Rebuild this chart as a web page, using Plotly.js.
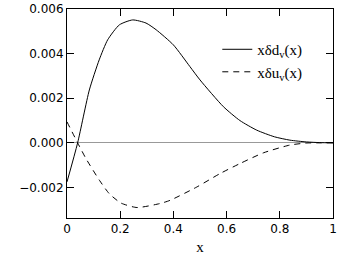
<!DOCTYPE html>
<html>
<head>
<meta charset="utf-8">
<script src="https://cdn.plot.ly/plotly-3.0.1.min.js"></script>
<style>
  html, body { margin: 0; padding: 0; background: #fff; }
  #chart { width: 346px; height: 262px; }
</style>
</head>
<body>
<div id="chart"></div>
<script>
// values
const xD = [0, 0.04, 0.084, 0.121, 0.153, 0.197, 0.247, 0.297, 0.335, 0.4, 0.462, 0.5, 0.588, 0.65, 0.713, 0.78, 0.838, 0.9, 0.95, 1.0];
const dV = [-0.00175, 0, 0.00237, 0.00372, 0.00462, 0.00529, 0.00551, 0.00537, 0.00507, 0.00439, 0.00342, 0.00282, 0.00162, 0.001, 0.00057, 0.00027, 0.00012, 0.00004, 0.00001, 0];

const xU = [0, 0.04, 0.071, 0.122, 0.159, 0.203, 0.263, 0.35, 0.387, 0.488, 0.575, 0.65, 0.738, 0.838, 0.9, 0.95, 1.0];
const uV = [0.00094, 0, -0.0007, -0.00168, -0.00228, -0.0027, -0.0029, -0.00272, -0.00258, -0.00198, -0.00138, -0.00093, -0.00045, -0.0001, -0.00001, 0, 0];

const names = ['xδd<sub>v</sub>(x)', 'xδu<sub>v</sub>(x)'];

const data = [
    {
        x: xD, y: dV, name: names[0],
        type: 'scatter', mode: 'lines',
        line: {color: '#000', width: 1, shape: 'spline', smoothing: 0.6},
    },
    {
        x: xU, y: uV, name: names[1],
        type: 'scatter', mode: 'lines',
        line: {color: '#000', width: 1, dash: '6px,5px', shape: 'spline', smoothing: 0.6},
    },
];

const tickFont = {family: 'DejaVu Sans', size: 12, color: '#000'};

const layout = {
    width: 346,
    height: 262,
    margin: {l: 67, r: 13, t: 9, b: 44},
    paper_bgcolor: '#fff',
    plot_bgcolor: '#fff',
    showlegend: true,
    legend: {
        x: 0.565, y: 0.885, xanchor: 'left', yanchor: 'top',
        bgcolor: 'rgba(0,0,0,0)',
        font: {family: 'Liberation Serif', size: 15, color: '#000'},
        itemwidth: 30,
        tracegroupgap: 0,
    },
    xaxis: {
        range: [0, 1],
        tick0: 0,
        dtick: 0.2,
        ticks: 'inside', ticklen: 7, tickwidth: 1, tickcolor: '#000',
        showline: true, linecolor: '#000', linewidth: 1,
        mirror: 'ticks',
        showgrid: false, zeroline: false,
        tickfont: tickFont,
        title: {text: 'x', font: {family: 'Liberation Serif', size: 15, color: '#000'}, standoff: 6},
    },
    yaxis: {
        range: [-0.00337, 0.006],
        dtick: 0.002,
        tickformat: '.3f',
        ticks: 'inside', ticklen: 7, tickwidth: 1, tickcolor: '#000',
        showline: true, linecolor: '#000', linewidth: 1,
        mirror: 'ticks',
        showgrid: false,
        zeroline: true, zerolinecolor: '#999', zerolinewidth: 1,
        tickfont: tickFont,
    },
};

Plotly.newPlot('chart', data, layout, {displayModeBar: false, staticPlot: true});
</script>
</body>
</html>
